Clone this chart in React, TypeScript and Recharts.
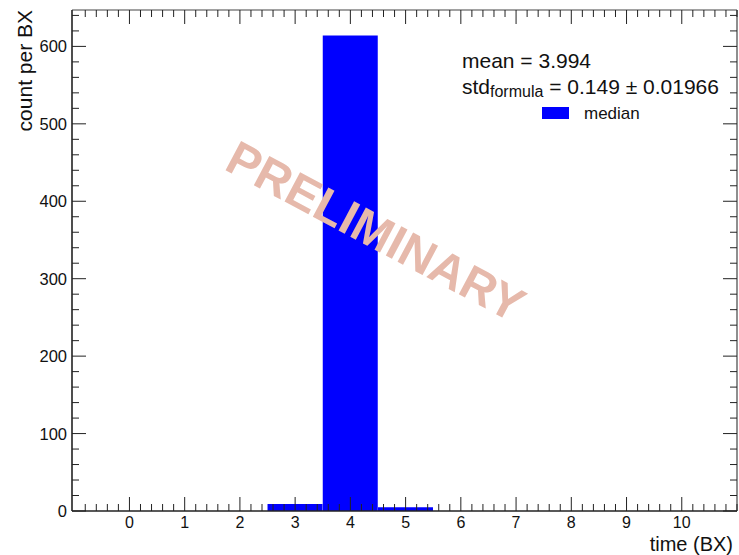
import { BarChart, Bar, XAxis, YAxis } from "recharts";

// histogram bins (bin centre, in BX) and their counts
const BIN_CENTERS = [0, 1, 2, 3, 4, 5, 6, 7, 8, 9, 10];
const COUNTS = [0, 0, 0, 9, 614, 5, 0, 0, 0, 0, 0];

const X_LABELS = [0, 1, 2, 3, 4, 5, 6, 7, 8, 9, 10];
const Y_LABELS = [0, 100, 200, 300, 400, 500, 600];

const MEAN_TEXT = "mean = 3.994";
const STD_VALUE = " = 0.149 ± 0.01966";
const SERIES_NAME = "median";

const X_DOMAIN: [number, number] = [-1.04, 11];
const Y_DOMAIN: [number, number] = [0, 647];

// minor ticks every 0.2 BX / 20 counts
const X_MINOR = Array.from({ length: 60 }, (_, i) => Math.round((i - 4) * 2) / 10);
const Y_MINOR = Array.from({ length: 33 }, (_, i) => i * 20);

const FONT = "'Liberation Sans', Arial, Helvetica, sans-serif";

const data = BIN_CENTERS.map((x, i) => ({ x, count: COUNTS[i] }));

const isMajorX = (v: number) => Math.abs(v - Math.round(v)) < 1e-6 && X_LABELS.includes(Math.round(v));
const isMajorY = (v: number) => Y_LABELS.includes(v);

function BottomTick({ x, y, payload }: any) {
  const v = payload.value;
  const major = isMajorX(v);
  return (
    <g>
      <line x1={x} x2={x} y1={y} y2={y - (major ? 14 : 7)} stroke="#222" strokeWidth={1} />
      {major && (
        <text x={x} y={y + 17} textAnchor="middle" fontSize={16} fill="#111" fontFamily={FONT}>
          {Math.round(v)}
        </text>
      )}
    </g>
  );
}

function TopTick({ x, y, payload }: any) {
  const major = isMajorX(payload.value);
  return <line x1={x} x2={x} y1={y} y2={y + (major ? 14 : 7)} stroke="#222" strokeWidth={1} />;
}

function LeftTick({ x, y, payload }: any) {
  const v = payload.value;
  const major = isMajorY(v);
  return (
    <g>
      <line x1={x} x2={x + (major ? 14 : 7)} y1={y} y2={y} stroke="#222" strokeWidth={1} />
      {major && (
        <text x={x - 5} y={y + 6} textAnchor="end" fontSize={16.5} fill="#111" fontFamily={FONT}>
          {v}
        </text>
      )}
    </g>
  );
}

function RightTick({ x, y, payload }: any) {
  const major = isMajorY(payload.value);
  return <line x1={x} x2={x - (major ? 14 : 7)} y1={y} y2={y} stroke="#222" strokeWidth={1} />;
}

const xTicks = X_MINOR.filter((v) => v >= X_DOMAIN[0] && v <= X_DOMAIN[1]);

export default function App() {
  return (
    <div style={{ position: "absolute", left: 0, top: 0, width: 739, height: 555, background: "#fff", fontFamily: FONT }}>
      <BarChart
        width={739}
        height={555}
        data={data}
        margin={{ top: 9, right: 1, bottom: 0, left: 0 }}
        barCategoryGap={0}
        barGap={0}
      >
        <XAxis xAxisId="bar" dataKey="x" type="number" domain={X_DOMAIN} ticks={X_LABELS} allowDataOverflow height={0} hide />
        <XAxis
          xAxisId="bottom"
          dataKey="x"
          type="number"
          domain={X_DOMAIN}
          ticks={xTicks}
          interval={0}
          allowDataOverflow
          height={44}
          tickSize={0}
          tickMargin={0}
          tickLine={false}
          tick={<BottomTick />}
          axisLine={{ stroke: "#222", strokeWidth: 1.6 }}
        />
        <XAxis
          xAxisId="top"
          orientation="top"
          dataKey="x"
          type="number"
          domain={X_DOMAIN}
          ticks={xTicks}
          interval={0}
          allowDataOverflow
          height={1}
          tickSize={0}
          tickMargin={0}
          tickLine={false}
          tick={<TopTick />}
          axisLine={{ stroke: "#444", strokeWidth: 1.2 }}
        />
        <YAxis
          yAxisId="left"
          type="number"
          domain={Y_DOMAIN}
          ticks={Y_MINOR}
          interval={0}
          allowDataOverflow
          width={72}
          tickSize={0}
          tickMargin={0}
          tickLine={false}
          tick={<LeftTick />}
          axisLine={{ stroke: "#222", strokeWidth: 1.6 }}
        />
        <YAxis
          yAxisId="right"
          orientation="right"
          type="number"
          domain={Y_DOMAIN}
          ticks={Y_MINOR}
          interval={0}
          allowDataOverflow
          width={1}
          tickSize={0}
          tickMargin={0}
          tickLine={false}
          tick={<RightTick />}
          axisLine={{ stroke: "#444", strokeWidth: 1.2 }}
        />
        <Bar
          xAxisId="bar"
          yAxisId="left"
          dataKey="count"
          name={SERIES_NAME}
          fill="#0000ff"
          isAnimationActive={false}
        />
      </BarChart>

      <svg width={739} height={555} style={{ position: "absolute", left: 0, top: 0, pointerEvents: "none" }}>
        <text
          transform="translate(368,246) rotate(28)"
          textAnchor="middle"
          fontSize={48}
          fontWeight="bold"
          fill="#e6b9ab"
          fontFamily={FONT}
        >
          PRELIMINARY
        </text>
        <text x={462} y={68} fontSize={21} fill="#111" fontFamily={FONT}>
          {MEAN_TEXT}
        </text>
        <text x={462} y={94} fontSize={21} fill="#111" fontFamily={FONT}>
          std
          <tspan fontSize={16} dy={3}>formula</tspan>
          <tspan dy={-3}>{STD_VALUE}</tspan>
        </text>
        <rect x={542} y={107} width={27} height={12} fill="#0000ff" />
        <text x={584} y={119} fontSize={17} fill="#111" fontFamily={FONT}>
          {SERIES_NAME}
        </text>
        <text transform="translate(32,10) rotate(-90)" textAnchor="end" fontSize={21} fill="#111" fontFamily={FONT}>
          count per BX
        </text>
        <text x={733} y={551} textAnchor="end" fontSize={20} fill="#111" fontFamily={FONT}>
          time (BX)
        </text>
      </svg>
    </div>
  );
}
